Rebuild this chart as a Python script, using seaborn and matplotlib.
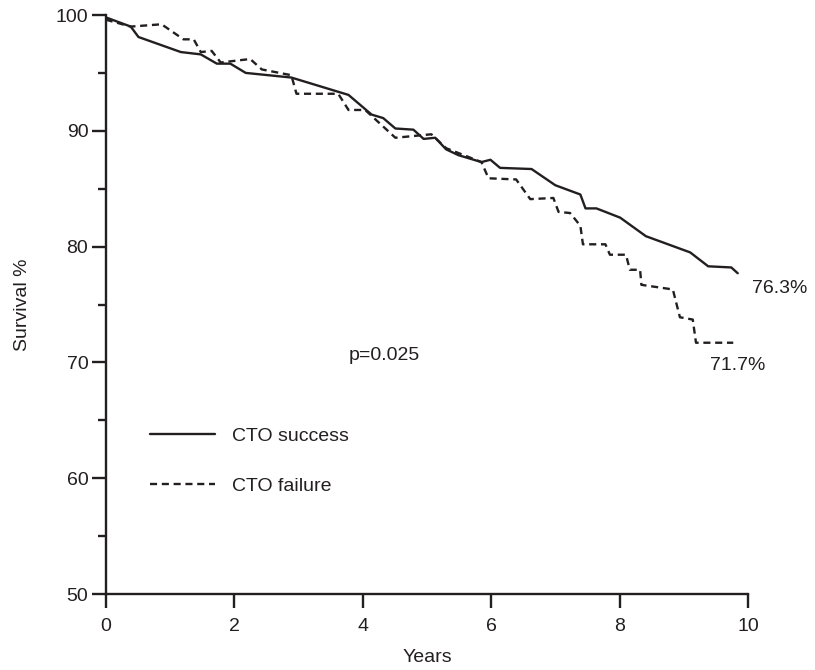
import matplotlib
matplotlib.use("Agg")
import matplotlib.pyplot as plt
import seaborn as sns
import pandas as pd

# ---- data ----
success_years = [0, 0.39, 0.51, 1.17, 1.48, 1.73, 1.94, 2.18, 2.89, 3.78, 4.14, 4.32,
                 4.51, 4.79, 4.95, 5.13, 5.30, 5.49, 5.85, 5.99, 6.14, 6.63, 7.00,
                 7.39, 7.47, 7.64, 8.01, 8.41, 9.10, 9.38, 9.74, 9.84]
success_surv = [99.8, 99.0, 98.1, 96.8, 96.6, 95.8, 95.8, 95.0, 94.6, 93.1, 91.4, 91.1,
                90.2, 90.1, 89.3, 89.4, 88.4, 87.9, 87.3, 87.5, 86.8, 86.7, 85.3,
                84.5, 83.3, 83.3, 82.5, 80.9, 79.5, 78.3, 78.2, 77.7]

failure_years = [0, 0.39, 0.87, 1.21, 1.37, 1.48, 1.65, 1.79, 2.25, 2.43, 2.89, 2.97,
                 3.62, 3.78, 4.04, 4.51, 5.07, 5.30, 5.85, 5.96, 6.39, 6.61, 6.97,
                 7.05, 7.23, 7.39, 7.43, 7.78, 7.85, 8.10, 8.16, 8.32, 8.34, 8.83,
                 8.88, 8.94, 9.14, 9.19, 9.77]
failure_surv = [99.6, 99.0, 99.2, 97.9, 97.9, 96.8, 96.9, 95.9, 96.2, 95.3, 94.8, 93.2,
                93.2, 91.8, 91.8, 89.4, 89.7, 88.5, 87.3, 85.9, 85.8, 84.1, 84.2,
                83.0, 82.9, 81.8, 80.2, 80.2, 79.3, 79.3, 78.0, 78.0, 76.7, 76.3,
                75.2, 73.9, 73.7, 71.7, 71.7]

group_names = ["CTO success", "CTO failure"]
x_ticks = [0, 2, 4, 6, 8, 10]
y_ticks = [50, 60, 70, 80, 90, 100]
y_minor = [55, 65, 75, 85, 95]
end_labels = ["76.3%", "71.7%"]
p_text = "p=0.025"

df = pd.concat([
    pd.DataFrame({"Years": success_years, "Survival": success_surv, "Group": group_names[0]}),
    pd.DataFrame({"Years": failure_years, "Survival": failure_surv, "Group": group_names[1]}),
], ignore_index=True)

sns.set_theme(style="ticks")
plt.rcParams["font.family"] = ["Liberation Sans", "DejaVu Sans"]
ink = "#231f20"

fig = plt.figure(figsize=(8.15, 6.7), dpi=100)
ax = fig.add_axes([0.1297, 0.1134, 0.9178 - 0.1297, 0.9776 - 0.1134])

sns.lineplot(data=df, x="Years", y="Survival", hue="Group", style="Group",
             palette={group_names[0]: ink, group_names[1]: ink},
             dashes={group_names[0]: "", group_names[1]: (3, 2)},
             sort=False, estimator=None, linewidth=1.7, ax=ax)

ax.set_xlim(0, 10)
ax.set_ylim(50, 100)
ax.set_xticks(x_ticks)
ax.set_yticks(y_ticks)
ax.set_yticks(y_minor, minor=True)
ax.set_xticklabels([str(t) for t in x_ticks])
ax.set_yticklabels([str(t) for t in y_ticks])

for side in ["top", "right"]:
    ax.spines[side].set_visible(False)
for side in ["left", "bottom"]:
    ax.spines[side].set_linewidth(1.7)
    ax.spines[side].set_color(ink)

ax.tick_params(axis="both", which="major", direction="out", length=10, width=1.7,
               color=ink, labelsize=14, labelcolor=ink)
ax.tick_params(axis="y", which="major", pad=2.5)
ax.tick_params(axis="x", which="major", pad=7.5)
ax.tick_params(axis="y", which="minor", direction="out", length=6, width=1.7, color=ink)

ax.set_xlabel("Years", fontsize=14, color=ink, labelpad=10)
ax.set_ylabel("Survival %", fontsize=14, color=ink, labelpad=18)

ax.text(10.06, 76.4, end_labels[0], fontsize=14, color=ink, ha="left", va="center")
ax.text(9.41, 69.7, end_labels[1], fontsize=14, color=ink, ha="left", va="center")
ax.text(4.33, 70.6, p_text, fontsize=14, color=ink, ha="center", va="center")

sns.move_legend(ax, loc="upper left", bbox_to_anchor=(0.069, 0.288), frameon=False,
                title=None, fontsize=14, handlelength=3.35, handletextpad=0.88,
                labelspacing=1.65, borderpad=0, borderaxespad=0)
for t in ax.get_legend().get_texts():
    t.set_color(ink)

fig.savefig("out.png", dpi=100)
